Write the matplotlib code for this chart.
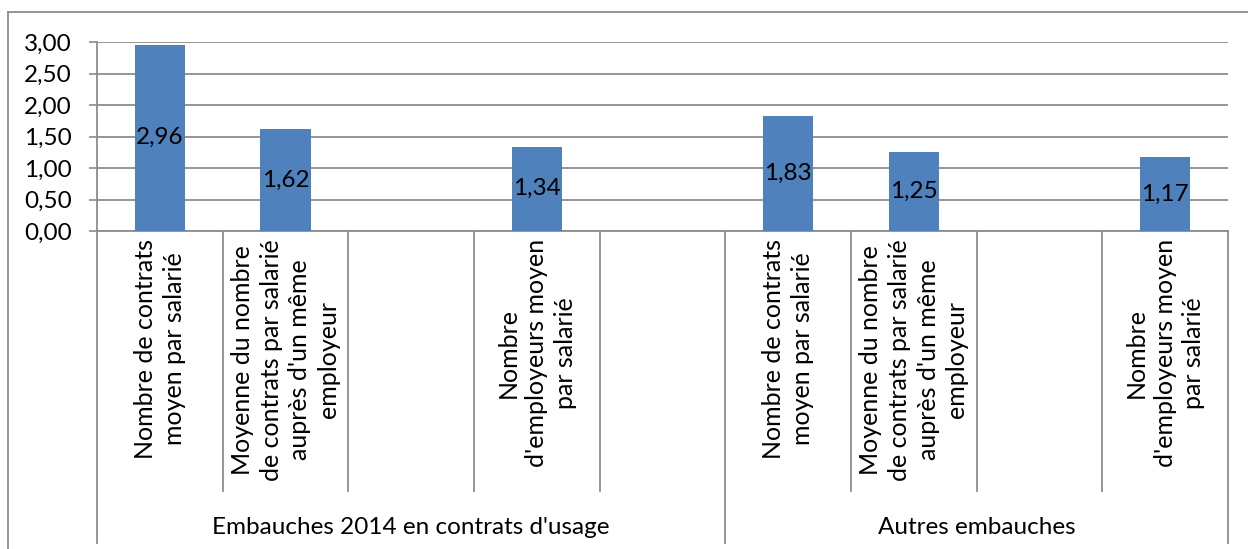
import matplotlib
matplotlib.use("Agg")
import matplotlib.pyplot as plt
import matplotlib.transforms as mtransforms
from matplotlib.lines import Line2D
from matplotlib.ticker import FuncFormatter

# Données (lecture du graphique)
groups = ["Embauches 2014 en contrats d'usage", "Autres embauches"]
group_sizes = [5, 4]
categories = [
    "Nombre de contrats\nmoyen par salarié",
    "Moyenne du nombre\nde contrats par salarié\nauprès d'un même\nemployeur",
    "",
    "Nombre\nd'employeurs moyen\npar salarié",
    "",
    "Nombre de contrats\nmoyen par salarié",
    "Moyenne du nombre\nde contrats par salarié\nauprès d'un même\nemployeur",
    "",
    "Nombre\nd'employeurs moyen\npar salarié",
]
values = [2.96, 1.62, None, 1.34, None, 1.83, 1.25, None, 1.17]
yticks = [0, 0.5, 1.0, 1.5, 2.0, 2.5, 3.0]

W, H = 1248, 549
plt.rcParams['font.family'] = ['Lato', 'DejaVu Sans']
FS = 17.5
GRID = '#8c8c8c'
BAR = '#4f81bd'

fig = plt.figure(figsize=(W / 100, H / 100), dpi=100)
ax = fig.add_axes([97 / W, 1 - 231 / H, (1228 - 97) / W, (231 - 42) / H])

n = len(categories)
xs = list(range(n))
for x, v in zip(xs, values):
    if v is None:
        continue
    ax.bar(x, v, width=0.4, color=BAR, zorder=3)
    ax.text(x, v / 2, f"{v:.2f}".replace('.', ','), ha='center', va='center',
            fontsize=FS, zorder=4)

ax.set_xlim(-0.5, n - 0.5)
ax.set_ylim(0, 3.0)
ax.set_yticks(yticks)
ax.yaxis.set_major_formatter(FuncFormatter(lambda v, p: f"{v:.2f}".replace('.', ',')))
ax.tick_params(axis='y', length=6, width=1.2, color=GRID, pad=12, labelsize=FS)
ax.set_xticks([])
ax.grid(axis='y', color=GRID, linewidth=1.3, zorder=0)
for s in ['top', 'right']:
    ax.spines[s].set_visible(False)
ax.spines['left'].set_color(GRID)
ax.spines['bottom'].set_color(GRID)
ax.spines['left'].set_linewidth(1.3)
ax.spines['bottom'].set_linewidth(1.3)

# axe des catégories à deux niveaux
tr = mtransforms.blended_transform_factory(ax.transData, fig.transFigure)
y0 = 1 - 231 / H
y_cat = 1 - 491 / H
y_grp = 1 - 543 / H
bounds = [0]
for g in group_sizes:
    bounds.append(bounds[-1] + g)
for i in range(n + 1):
    y_end = y_grp if i in bounds else y_cat
    ax.add_line(Line2D([i - 0.5, i - 0.5], [y0, y_end], transform=tr,
                       color=GRID, linewidth=1.3, clip_on=False))
for x, lab in zip(xs, categories):
    if lab:
        ax.text(x, 1 - 239 / H, lab, transform=tr, rotation=90, ha='center',
                va='top', multialignment='center', fontsize=FS + 0.5, linespacing=1.3)
for g, a, b in zip(groups, bounds[:-1], bounds[1:]):
    ax.text((a + b - 1) / 2, 1 - 527 / H, g, transform=tr, ha='center',
            va='center', fontsize=FS)

# cadre du graphique
fig.add_artist(Line2D([8 / W, 8 / W], [0, 1 - 12 / H], color=GRID, linewidth=1.3))
fig.add_artist(Line2D([8 / W, 1], [1 - 12 / H, 1 - 12 / H], color=GRID, linewidth=1.3))

fig.savefig('out.png', dpi=100)
